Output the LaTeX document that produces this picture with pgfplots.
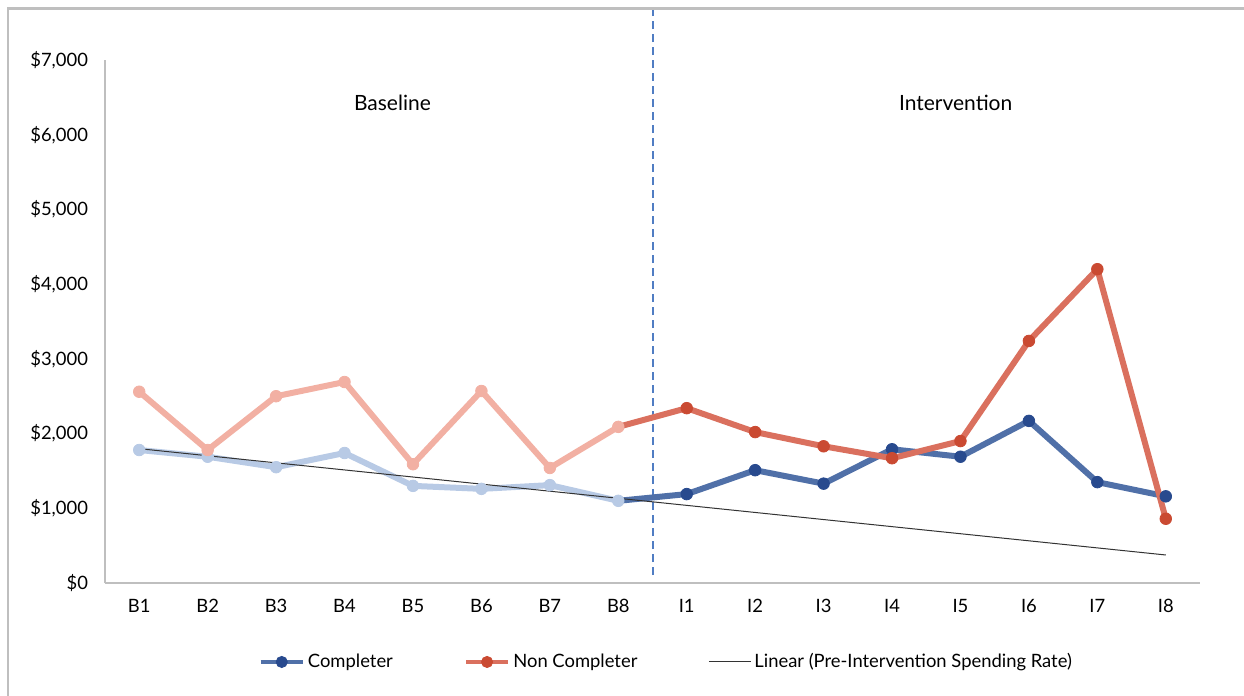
\documentclass[border=0pt]{standalone}
\usepackage{pgfplots}
\pgfplotsset{compat=1.18}
\usepackage{fontspec}
\setmainfont{Lato}
\definecolor{cbline}{RGB}{80,112,168}
\definecolor{cbmark}{RGB}{40,74,142}
\definecolor{cblight}{RGB}{184,202,229}
\definecolor{crline}{RGB}{218,112,94}
\definecolor{crmark}{RGB}{202,74,50}
\definecolor{crlight}{RGB}{242,176,163}
\definecolor{cdash}{RGB}{80,125,195}
\definecolor{cgrid}{RGB}{191,191,191}
\begin{document}
\begin{tikzpicture}
\useasboundingbox (0,0) rectangle (622pt,-348pt);
\draw[cgrid, line width=1.2pt] (4pt,-4.2pt) rectangle (640pt,-360pt);
\begin{axis}[
  at={(52.5pt,-291.5pt)}, anchor=south west,
  scale only axis, width=547.5pt, height=261.5pt,
  xmin=-0.5, xmax=15.5, ymin=0, ymax=7000,
  axis lines=left,
  axis line style={-, draw=cgrid, line width=0.8pt},
  major tick length=0pt,
  xtick={0,...,15},
  xticklabels={B1,B2,B3,B4,B5,B6,B7,B8,I1,I2,I3,I4,I5,I6,I7,I8},
  ytick={0,1000,2000,3000,4000,5000,6000,7000},
  yticklabels={\$0,{\$1,000},{\$2,000},{\$3,000},{\$4,000},{\$5,000},{\$6,000},{\$7,000}},
  tick label style={font=\fontsize{9.2}{11}\selectfont, text=black},
  xticklabel style={yshift=-4.5pt},
  yticklabel style={xshift=-5pt},
  clip=false,
  legend columns=3,
  legend style={at={(0.513,-0.151)}, anchor=center, draw=none, fill=none,
    font=\fontsize{9.2}{11}\selectfont,
    nodes={inner xsep=1.5pt},
    /tikz/every even column/.append style={column sep=34pt}},
  legend cell align=left,
  legend image code/.code={
    \draw[#1, mark=none] (0pt,0pt) -- (21pt,0pt);
    \draw[#1, only marks] plot coordinates {(10.5pt,0pt)};
  },
]
% legend images
\addlegendimage{cbline, line width=2.2pt, mark=*, mark size=2.8pt, mark options={draw=cbmark, fill=cbmark, line width=0.4pt}}
\addlegendentry{Completer}
\addlegendimage{crline, line width=2.2pt, mark=*, mark size=2.8pt, mark options={draw=crmark, fill=crmark, line width=0.4pt}}
\addlegendentry{Non Completer}
\addlegendimage{black!80, line width=0.5pt, mark=none}
\addlegendentry{Linear (Pre-Intervention Spending Rate)}

% dashed separator
\addplot[forget plot, cdash, line width=1pt, dash pattern=on 4pt off 2.5pt] coordinates {(7.5,107) (7.5,7670)};

% intervention series (dark)
\addplot[forget plot, cbline, line width=3pt, line join=round] coordinates {
(7,1100) (8,1190) (9,1510) (10,1330) (11,1790) (12,1690) (13,2170) (14,1350) (15,1160)};
\addplot[forget plot, only marks, mark=*, mark size=2.9pt, mark options={draw=cbmark, fill=cbmark, line width=0.4pt}] coordinates {
(8,1190) (9,1510) (10,1330) (11,1790) (12,1690) (13,2170) (14,1350) (15,1160)};
\addplot[forget plot, crline, line width=3pt, line join=round] coordinates {
(7,2090) (8,2340) (9,2020) (10,1830) (11,1670) (12,1900) (13,3240) (14,4200) (15,860)};
\addplot[forget plot, only marks, mark=*, mark size=2.9pt, mark options={draw=crmark, fill=crmark, line width=0.4pt}] coordinates {
(8,2340) (9,2020) (10,1830) (11,1670) (12,1900) (13,3240) (14,4200) (15,860)};

% baseline series (light)
\addplot[forget plot, cblight, line width=3pt, line join=round, mark=*, mark size=2.9pt, mark options={draw=cblight, fill=cblight, line width=0.4pt}] coordinates {
(0,1780) (1,1690) (2,1550) (3,1740) (4,1300) (5,1260) (6,1310) (7,1100)};
\addplot[forget plot, crlight, line width=3pt, line join=round, mark=*, mark size=2.9pt, mark options={draw=crlight, fill=crlight, line width=0.4pt}] coordinates {
(0,2560) (1,1780) (2,2500) (3,2690) (4,1590) (5,2570) (6,1540) (7,2090)};

% linear trend
\addplot[forget plot, black!80, line width=0.5pt] coordinates {(0,1798) (15,375)};

\node[font=\fontsize{10.5}{12}\selectfont] at (axis cs:3.7,6430) {Baseline};
\node[font=\fontsize{10.5}{12}\selectfont] at (axis cs:11.93,6430) {Intervention};
\end{axis}
\end{tikzpicture}
\end{document}
